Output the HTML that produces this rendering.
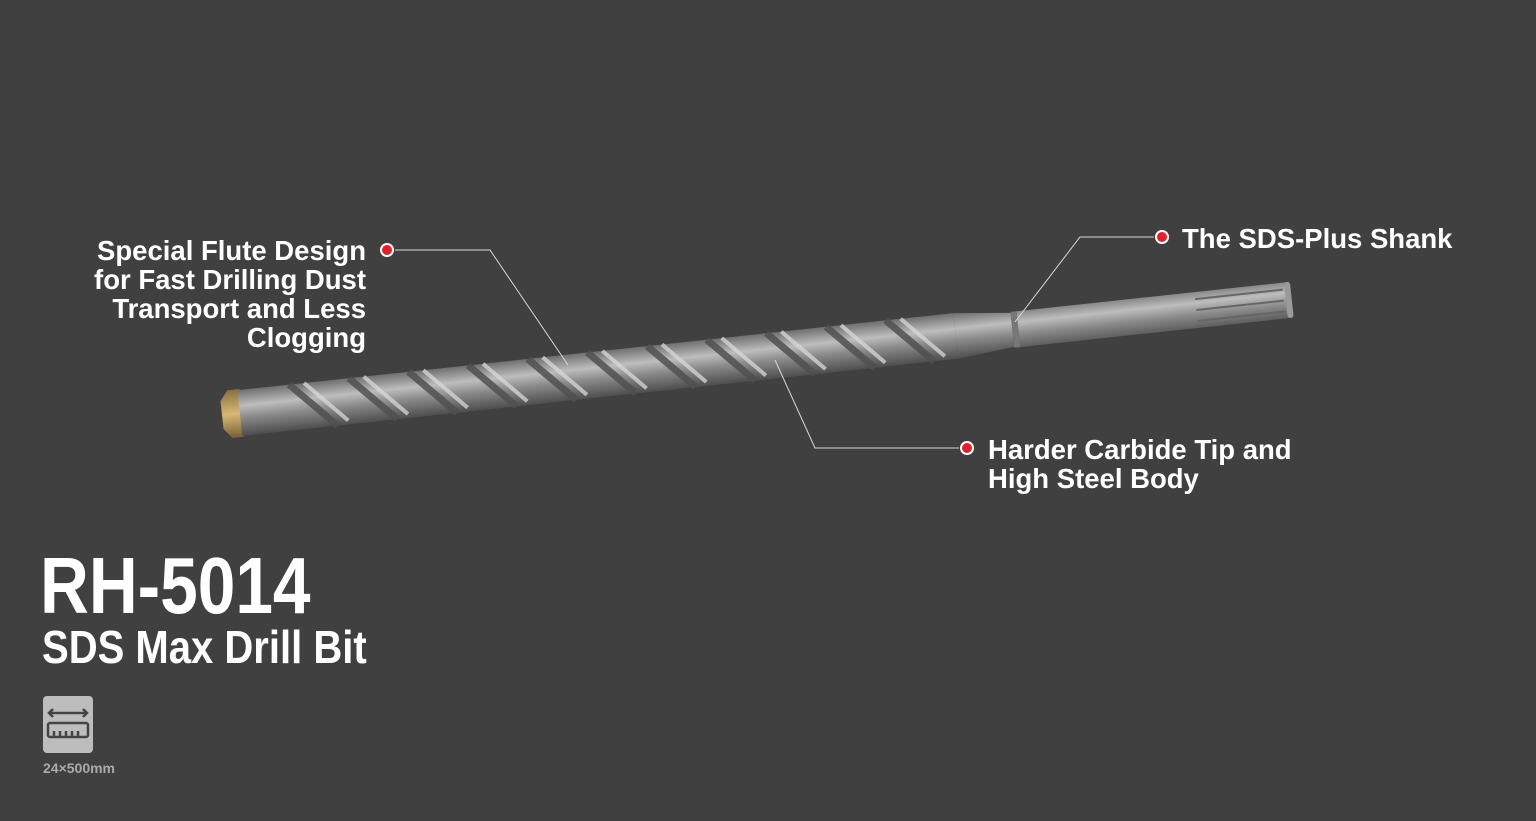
<!DOCTYPE html>
<html><head><style>
body{margin:0;width:1536px;height:821px;background:#404040;overflow:hidden;position:relative;font-family:"Liberation Sans",sans-serif;color:#fff}
.t{position:absolute;font-weight:bold;font-size:27.5px;line-height:29px}
</style></head><body>
<svg width="1536" height="821" style="position:absolute;left:0;top:0">
<defs>
<linearGradient id="g" x1="0" y1="-24" x2="0" y2="24" gradientUnits="userSpaceOnUse">
<stop offset="0" stop-color="#6a6a6a"/><stop offset="0.35" stop-color="#bdbdbd"/><stop offset="0.6" stop-color="#8a8a8a"/><stop offset="1" stop-color="#4a4a4a"/></linearGradient>
<linearGradient id="gold" x1="0" y1="-24" x2="0" y2="24" gradientUnits="userSpaceOnUse">
<stop offset="0" stop-color="#8a7040"/><stop offset="0.5" stop-color="#d8b878"/><stop offset="1" stop-color="#7a6030"/></linearGradient>
</defs>
<g transform="translate(222,415) rotate(-6.15)">
<path d="M0,-14 L8,-24 L20,-24 L20,24 L8,24 L0,14 Z" fill="url(#gold)"/>
<rect x="18" y="-23" width="720" height="46" fill="url(#g)"/>
<g stroke="#505050" stroke-width="7" fill="none" opacity="0.85">
<path d="M70,-23 l44,46 M130,-23 l44,46 M190,-23 l44,46 M250,-23 l44,46 M310,-23 l44,46 M370,-23 l44,46 M430,-23 l44,46 M490,-23 l44,46 M550,-23 l44,46 M610,-23 l44,46 M670,-23 l44,46"/>
</g>
<g stroke="#d8d8d8" stroke-width="4" fill="none" opacity="0.75">
<path d="M85,-23 l40,42 M145,-23 l40,42 M205,-23 l40,42 M265,-23 l40,42 M325,-23 l40,42 M385,-23 l40,42 M445,-23 l40,42 M505,-23 l40,42 M565,-23 l40,42 M625,-23 l40,42 M685,-23 l40,42"/>
</g>
<path d="M738,-23 L795,-17 L795,17 L738,23 Z" fill="url(#g)"/>
<rect x="795" y="-18" width="6" height="36" fill="#777"/>
<rect x="801" y="-18" width="274" height="36" fill="url(#g)"/>
<g stroke="#666" stroke-width="2"><path d="M980,-11 H1068 M980,0 H1068 M980,11 H1068"/></g>
<rect x="1070" y="-18" width="6" height="36" rx="3" fill="#9a9a9a"/>
</g>
<g stroke="#d8d8d8" stroke-width="1" fill="none">
<path d="M395,250 H490 L568,365"/>
<path d="M1154,237 H1080 L1015,322"/>
<path d="M959,448 H815 L775,360"/>
</g>
<g fill="#e0202a" stroke="#fff" stroke-width="2">
<circle cx="387" cy="250" r="6"/><circle cx="1162" cy="237" r="6"/><circle cx="967" cy="448" r="6"/>
</g>
<rect x="43" y="696" width="50" height="57" rx="4" fill="#bdbdbd"/>
<g stroke="#444" stroke-width="2.5" fill="none">
<path d="M49,713 H87 M53,709 l-4,4 4,4 M83,709 l4,4 -4,4"/>
<rect x="48" y="723" width="40" height="14" rx="2"/>
<path d="M54,737 v-6 M60,737 v-6 M66,737 v-6 M72,737 v-6 M78,737 v-6"/>
</g>
</svg>
<div class="t" style="right:1170px;top:236px;text-align:right">Special Flute Design<br>for Fast Drilling Dust<br>Transport and Less<br>Clogging</div>
<div class="t" style="left:1182px;top:224px">The SDS-Plus Shank</div>
<div class="t" style="left:988px;top:435px">Harder Carbide Tip and<br>High Steel Body</div>
<div style="position:absolute;left:40px;top:540px;font-weight:bold;font-size:80px;line-height:92px;transform:scaleX(0.845);transform-origin:0 0">RH-5014</div>
<div style="position:absolute;left:42px;top:620px;font-weight:bold;font-size:46px;line-height:54px;transform:scaleX(0.87);transform-origin:0 0">SDS Max Drill Bit</div>
<div style="position:absolute;left:43px;top:760px;font-size:14px;font-weight:bold;color:#aaa">24×500mm</div>
</body></html>
